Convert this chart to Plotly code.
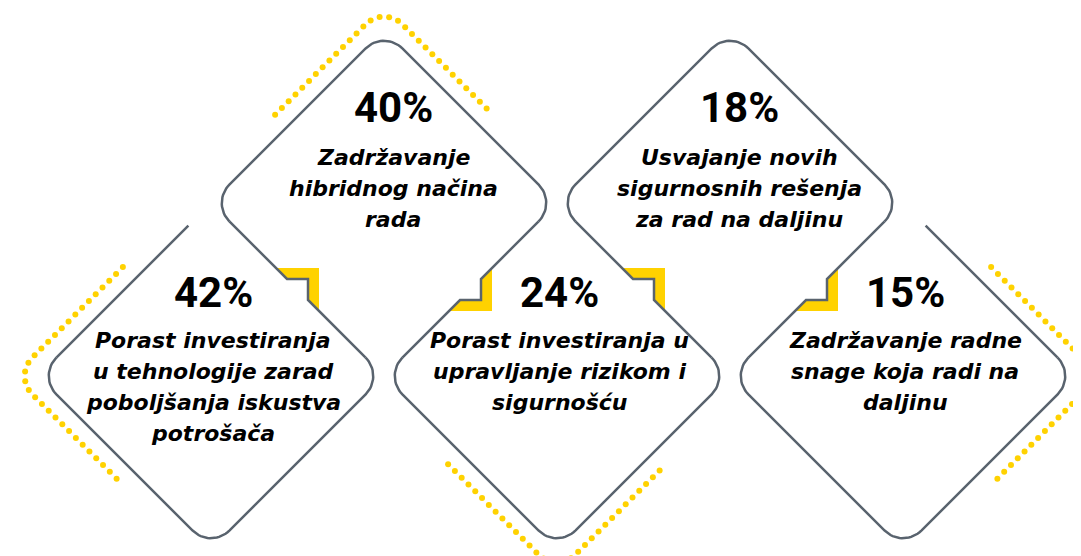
import numpy as np
import plotly.graph_objects as go

# ---------------- data ----------------
pcts = [42, 40, 24, 18, 15]
label_lines = [
    ["Porast investiranja", "u tehnologije zarad", "poboljšanja iskustva", "potrošača"],
    ["Zadržavanje", "hibridnog načina", "rada"],
    ["Porast investiranja u", "upravljanje rizikom i", "sigurnošću"],
    ["Usvajanje novih", "sigurnosnih rešenja", "za rad na daljinu"],
    ["Zadržavanje radne", "snage koja radi na", "daljinu"],
]
dotted_corner = ["left", "top", "bottom", None, "right"]

# ---------------- layout params ----------------
W, HF = 1081, 556
BODY = 8  # default page margin of the html body
X0, STEP, HALF = 211, 173, 173
CY_LOW, CY_UP = 376, 203
R = 26
GAP = 32
NS, NB = 10.5, 21.5
DOT_OFF, DOT_LEN, DOT_SP, DOT_R = 17, 154, 9.6, 26
GRAY = "#59636e"
YEL = "#FFD200"
K = 0.5523


def unit(a, b):
    v = np.asarray(b, float) - np.asarray(a, float)
    return v / np.linalg.norm(v)


def verts(i):
    cx = X0 + STEP * i
    cy = CY_LOW if i % 2 == 0 else CY_UP
    return dict(T=np.array([cx, cy - HALF], float), R=np.array([cx + HALF, cy], float),
                B=np.array([cx, cy + HALF], float), L=np.array([cx - HALF, cy], float),
                C=np.array([cx, cy], float))


def corner(V, A, C, r, n=18):
    ua, uc = unit(V, A), unit(V, C)
    P0, P3 = V + r * ua, V + r * uc
    C1, C2 = V + r * (1 - K) * ua, V + r * (1 - K) * uc
    t = np.linspace(0, 1, n)[:, None]
    return (1 - t) ** 3 * P0 + 3 * (1 - t) ** 2 * t * C1 + 3 * (1 - t) * t ** 2 * C2 + t ** 3 * P3


fig = go.Figure()


def add_line(pts):
    pts = np.asarray(pts)
    fig.add_trace(go.Scatter(x=pts[:, 0], y=pts[:, 1], mode="lines",
                             line=dict(color=GRAY, width=2.5), hoverinfo="skip"))


def add_fill(pts):
    pts = np.asarray(pts)
    fig.add_trace(go.Scatter(x=pts[:, 0], y=pts[:, 1], mode="lines", fill="toself",
                             fillcolor=YEL, line=dict(width=0, color=YEL), hoverinfo="skip"))


V = [verts(i) for i in range(len(pcts))]

# yellow notch decorations (under the lines)
for i in range(1, len(pcts), 2):
    v = V[i]
    mx, my = (v["L"] + v["B"]) / 2
    add_fill([(mx - NB, my - NB), (mx + NB, my - NB), (mx + NB, my + NB),
              (mx + NS, my + NS), (mx + NS, my - NS), (mx - NS, my - NS), (mx - NB, my - NB)])
    mx, my = (v["R"] + v["B"]) / 2
    add_fill([(mx + NB, my - NB), (mx + NB, my + NB), (mx - NB, my + NB),
              (mx - NS, my + NS), (mx + NS, my + NS), (mx + NS, my - NS), (mx + NB, my - NB)])

# diamond outlines
for i, v in enumerate(V):
    if i % 2 == 1:
        pts = np.vstack([corner(v["L"], v["B"], v["T"], R),
                         corner(v["T"], v["L"], v["R"], R),
                         corner(v["R"], v["T"], v["B"], R)])
        add_line(pts)
        S = v["L"] + R * unit(v["L"], v["B"])
        E = v["B"] + R * unit(v["B"], v["L"])
        mx, my = (v["L"] + v["B"]) / 2
        add_line([S, (mx - NS, my - NS), (mx + NS, my - NS), (mx + NS, my + NS), E])
        S = v["R"] + R * unit(v["R"], v["B"])
        E = v["B"] + R * unit(v["B"], v["R"])
        mx, my = (v["R"] + v["B"]) / 2
        add_line([S, (mx + NS, my - NS), (mx + NS, my + NS), (mx - NS, my + NS), E])
    else:
        pts = np.vstack([corner(v["L"], v["T"], v["B"], R),
                         corner(v["B"], v["L"], v["R"], R),
                         corner(v["R"], v["B"], v["T"], R)])
        add_line(pts)
        if i == 0:
            add_line([v["T"] + GAP * unit(v["T"], v["L"]), v["L"] + R * unit(v["L"], v["T"])])
        if i == len(pcts) - 1:
            add_line([v["T"] + GAP * unit(v["T"], v["R"]), v["R"] + R * unit(v["R"], v["T"])])

# dotted yellow outlines
nbr = {"top": ("L", "R"), "bottom": ("L", "R"), "left": ("T", "B"), "right": ("T", "B")}
for i, key in enumerate(dotted_corner):
    if key is None:
        continue
    v = V[i]
    Vk = {"top": "T", "bottom": "B", "left": "L", "right": "R"}[key]
    P = v[Vk]
    a, c = nbr[key]
    out = unit(v["C"], P)
    sh = DOT_OFF * np.sqrt(2) * out
    Vp = P + sh
    Ap, Cp = v[a] + sh, v[c] + sh
    pts = np.vstack([Vp + DOT_LEN * unit(P, v[a]), corner(Vp, Ap, Cp, DOT_R, 60),
                     Vp + DOT_LEN * unit(P, v[c])])
    seg = np.linalg.norm(np.diff(pts, axis=0), axis=1)
    cum = np.concatenate([[0], np.cumsum(seg)])
    s = np.arange(0, cum[-1] + 0.01, DOT_SP)
    dx = np.interp(s, cum, pts[:, 0])
    dy = np.interp(s, cum, pts[:, 1])
    fig.add_trace(go.Scatter(x=dx, y=dy, mode="markers",
                             marker=dict(size=6, color=YEL, line=dict(width=0)),
                             hoverinfo="skip", cliponaxis=True))

# text
for i, v in enumerate(V):
    cx, cy = v["C"]
    upper = i % 2 == 1
    tx = cx + (9 if upper else 2)
    py = cy - (96 if upper else 84)
    ly0 = cy - (46 if upper else 36)
    fig.add_annotation(x=tx, y=py, text=f"{pcts[i]}%", showarrow=False,
                       xanchor="center", yanchor="middle",
                       font=dict(family="Roboto", size=42, color="#000", weight="bold"))
    for j, line in enumerate(label_lines[i]):
        fig.add_annotation(x=tx, y=ly0 + 31 * j, text=line, showarrow=False,
                           xanchor="center", yanchor="middle",
                           font=dict(family="DejaVu Sans", size=22, color="#000",
                                     weight="bold", style="italic"))

fig.update_layout(width=W - BODY, height=HF - BODY, margin=dict(l=0, r=0, t=0, b=0),
                  paper_bgcolor="white", plot_bgcolor="white", showlegend=False,
                  xaxis=dict(range=[BODY, W], visible=False, fixedrange=True),
                  yaxis=dict(range=[HF, BODY], visible=False, fixedrange=True))

fig.write_html("out.html")
